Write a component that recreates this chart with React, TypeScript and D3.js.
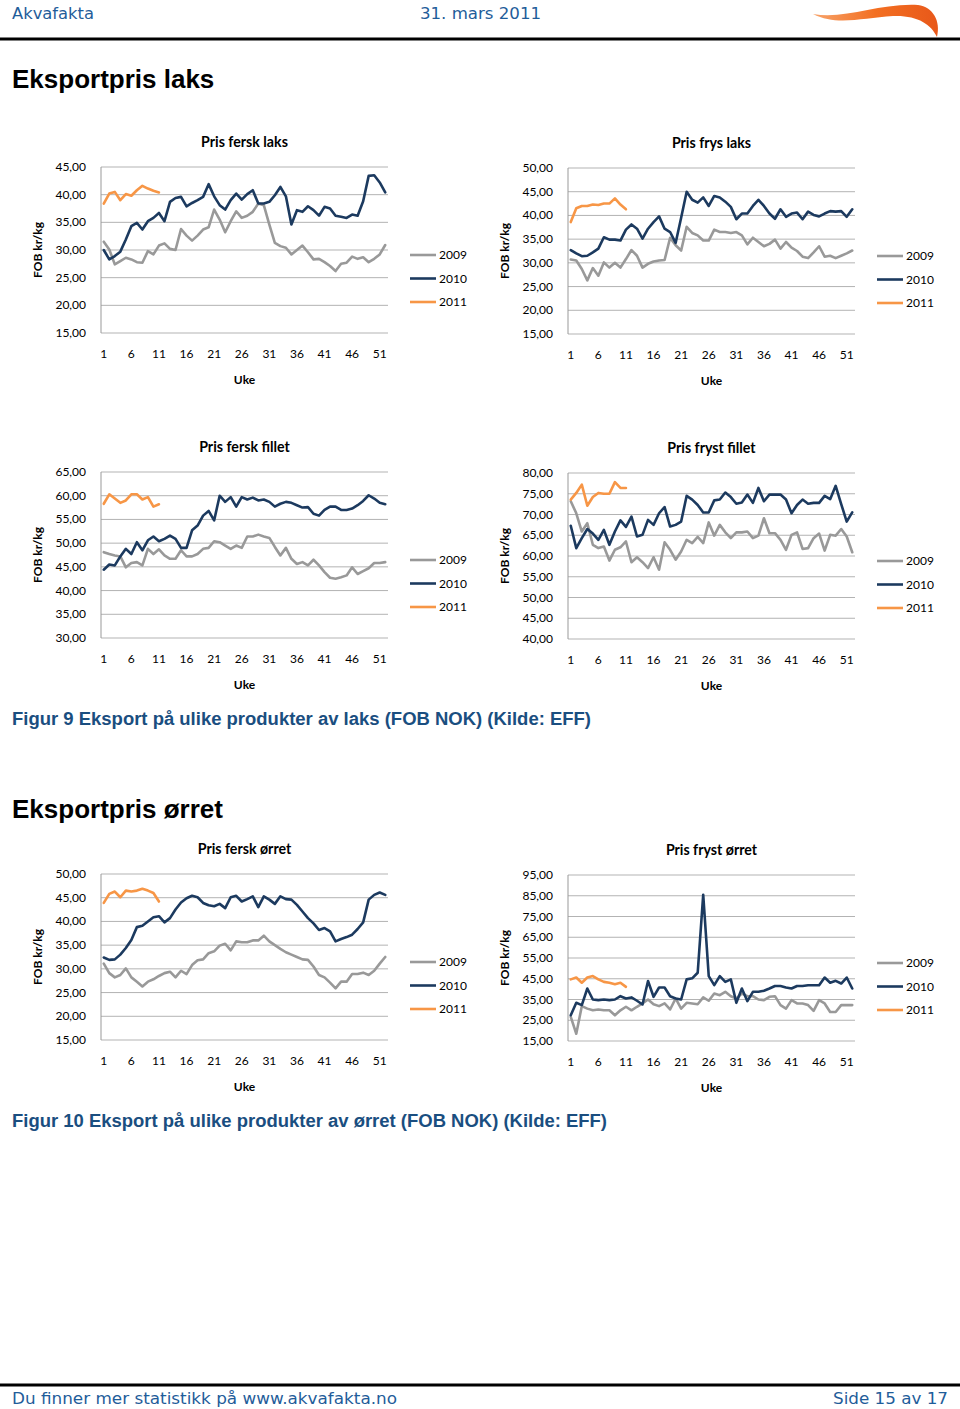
import React from "react";
import * as d3 from "d3";

// ---------- DATA ----------
const weeks: number[] = d3.range(1, 53);
const xTickLabels = ["1", "6", "11", "16", "21", "26", "31", "36", "41", "46", "51"];
const seriesNames = ["2009", "2010", "2011"];

const ferskLaksTicks = [15, 20, 25, 30, 35, 40, 45];
const ferskLaks2009 = [31.5,30.1,27.4,28.0,28.6,28.3,27.8,27.7,29.8,29.2,30.8,31.2,30.2,30.0,33.8,32.6,31.7,32.6,33.7,34.1,37.3,35.5,33.2,35.2,37.0,35.8,36.2,36.9,38.4,38.1,34.6,31.3,30.7,30.4,29.2,30.0,30.8,29.6,28.3,28.4,27.8,27.1,26.2,27.5,27.7,28.8,28.4,28.7,27.8,28.4,29.2,30.9];
const ferskLaks2010 = [30.0,28.3,28.9,29.7,31.9,34.3,34.9,33.7,35.2,35.8,36.7,35.2,38.7,39.4,39.6,37.9,38.5,39.0,39.6,41.9,39.7,38.1,37.3,39.0,40.2,39.1,40.1,40.8,38.4,38.4,38.7,39.9,41.4,39.7,34.6,37.2,36.9,37.9,37.2,36.2,37.8,37.5,36.2,36.0,35.8,36.4,36.2,38.8,43.4,43.5,42.2,40.4];
const ferskLaks2011 = [38.4,40.2,40.5,39.0,40.1,39.8,40.8,41.6,41.1,40.7,40.4];

const frysLaksTicks = [15, 20, 25, 30, 35, 40, 45, 50];
const frysLaks2009 = [30.7,30.5,28.7,26.3,28.9,27.3,30.1,29.0,30.0,29.0,30.8,32.7,31.5,29.0,29.8,30.3,30.5,30.6,35.3,33.7,32.6,37.6,36.3,35.8,34.7,34.7,37.0,36.5,36.5,36.3,36.5,35.8,33.9,35.3,34.4,33.5,34.0,34.9,33.0,34.4,33.2,32.5,31.3,31.0,32.2,33.5,31.3,31.5,31.0,31.5,32.0,32.6];
const frysLaks2010 = [32.7,32.0,31.4,31.5,32.2,33.0,35.4,34.9,34.9,34.7,37.0,38.1,37.2,35.1,37.2,38.6,39.8,37.2,36.5,34.2,39.5,45.0,43.3,42.7,43.8,42.0,44.1,43.8,42.9,41.8,39.2,40.4,40.4,42.0,43.3,42.0,40.4,39.3,41.3,39.7,40.4,40.6,39.2,40.8,40.1,39.8,40.4,40.9,40.8,40.9,39.7,41.3];
const frysLaks2011 = [38.6,41.5,42.0,42.0,42.3,42.2,42.5,42.5,43.6,42.3,41.3];

const ferskFilletTicks = [30, 35, 40, 45, 50, 55, 60, 65];
const ferskFillet2009 = [48.1,47.7,47.4,47.2,44.9,45.8,46.0,45.3,48.8,47.7,48.7,47.4,46.7,46.7,48.5,47.2,47.2,47.7,48.8,49.0,50.4,50.2,49.5,48.8,49.5,49.0,51.4,51.4,51.8,51.4,51.1,49.2,47.4,49.0,46.7,45.6,46.0,45.3,46.5,45.3,43.9,42.7,42.5,42.8,43.2,44.9,43.5,44.1,44.7,45.8,45.8,46.0];
const ferskFillet2010 = [44.4,45.5,45.3,47.2,48.8,47.7,50.2,48.5,50.6,51.4,50.4,50.9,51.6,50.9,49.0,49.0,52.7,53.7,55.8,56.8,54.8,60.0,58.7,59.7,57.7,59.7,59.2,59.6,59.0,59.2,58.7,57.7,58.3,58.7,58.5,58.0,57.5,57.6,56.2,55.8,57.0,57.7,57.7,57.0,57.0,57.3,58.0,58.9,60.1,59.4,58.5,58.2];
const ferskFillet2011 = [58.3,60.3,59.4,58.5,59.0,60.3,60.3,59.2,59.7,57.7,58.2];

const frystFilletTicks = [40, 45, 50, 55, 60, 65, 70, 75, 80];
const frystFillet2009 = [73.2,70.3,65.9,67.9,62.7,61.9,62.3,58.9,61.5,62.1,63.5,58.5,59.7,58.5,57.1,59.7,56.7,63.3,61.5,59.1,61.1,63.9,63.1,64.6,63.1,68.1,64.9,67.5,65.7,64.3,65.7,65.7,65.9,64.3,64.9,69.1,65.5,65.5,63.9,61.5,65.1,65.7,61.7,61.9,64.3,65.4,61.3,65.1,64.9,66.5,64.7,60.9];
const frystFillet2010 = [67.3,61.9,64.3,66.5,65.4,63.9,66.3,62.7,65.9,68.6,67.0,69.5,64.7,65.1,68.7,67.5,70.3,71.8,67.1,67.5,68.3,74.5,73.6,72.3,70.5,70.5,73.4,73.6,75.3,74.2,72.6,72.9,74.8,72.8,76.4,73.2,74.8,74.8,74.8,73.6,70.3,72.3,73.6,72.6,72.8,72.8,74.5,73.7,76.9,72.5,68.3,70.5];
const frystFillet2011 = [73.6,75.2,77.2,72.1,74.2,75.2,75.0,75.0,77.8,76.4,76.4];

const ferskOrretTicks = [15, 20, 25, 30, 35, 40, 45, 50];
const ferskOrret2009 = [31.1,29.1,28.2,28.7,30.1,28.2,27.3,26.3,27.3,27.8,28.5,29.1,29.4,28.2,29.6,28.9,30.8,31.8,32.0,33.3,33.7,34.9,35.3,33.9,35.8,35.6,35.6,36.0,36.0,37.0,35.8,35.0,34.2,33.5,33.0,32.5,32.0,31.9,30.5,28.7,28.2,27.1,25.9,27.3,27.3,28.9,28.9,29.2,28.7,29.6,31.1,32.5];
const ferskOrret2010 = [32.4,31.9,32.0,33.0,34.4,36.1,38.8,39.1,40.0,40.9,41.1,39.8,40.7,42.5,44.0,44.9,45.4,45.1,43.9,43.4,43.2,43.7,42.8,45.1,45.4,44.2,44.7,45.3,43.0,45.3,44.6,43.7,45.3,44.7,44.6,43.5,42.1,40.7,39.6,38.2,38.6,37.9,35.8,36.3,36.7,37.2,38.4,39.8,44.6,45.6,46.1,45.6];
const ferskOrret2011 = [43.9,45.8,46.3,45.1,46.5,46.3,46.5,46.9,46.5,46.0,44.2];

const frystOrretTicks = [15, 25, 35, 45, 55, 65, 75, 85, 95];
const frystOrret2009 = [26.6,18.5,31.8,30.6,29.8,30.2,29.8,29.8,27.4,29.8,31.5,29.8,31.5,33.1,35.0,32.7,31.8,33.1,30.2,35.5,30.6,33.4,33.1,32.7,36.0,34.4,37.9,37.1,38.7,36.6,35.5,37.9,36.6,36.6,35.0,34.7,36.3,36.6,32.3,30.6,34.7,33.1,33.1,32.3,29.5,34.7,33.1,29.0,29.0,32.3,32.3,32.3];
const frystOrret2010 = [27.4,33.4,32.3,40.3,35.0,34.7,35.0,34.7,35.0,36.6,35.5,36.0,34.4,32.6,43.9,36.3,40.8,40.8,36.6,35.5,35.0,44.7,45.2,47.9,85.5,46.3,41.9,46.3,43.5,44.7,33.4,40.3,34.2,38.7,38.7,39.2,40.3,41.5,41.5,40.8,40.3,41.5,41.5,41.9,41.9,41.9,45.6,43.1,44.0,42.7,45.6,40.3];
const frystOrret2011 = [44.7,45.6,43.1,45.6,46.3,44.7,43.5,43.1,42.4,43.1,41.1];

// ---------- STYLE / LAYOUT ----------
const COLORS = ["#999999", "#1c3a5f", "#f79646"];
const CHART_FONT = "Lato, 'Open Sans', sans-serif";
const HEAD_FONT = "'Liberation Sans', Arial, sans-serif";
const BLUE = "#1f5d9a";
const CAP_BLUE = "#1a4e80";

type ChartCfg = {
  title: string;
  x0: number; x1: number; yTop: number; yBot: number;
  ticks: number[];
  series: number[][];
};

const LX0 = 101, LX1 = 388, RX0 = 568, RX1 = 855;

const charts: ChartCfg[] = [
  { title: "Pris fersk laks", x0: LX0, x1: LX1, yTop: 167, yBot: 333, ticks: ferskLaksTicks, series: [ferskLaks2009, ferskLaks2010, ferskLaks2011] },
  { title: "Pris frys laks", x0: RX0, x1: RX1, yTop: 168, yBot: 334, ticks: frysLaksTicks, series: [frysLaks2009, frysLaks2010, frysLaks2011] },
  { title: "Pris fersk fillet", x0: LX0, x1: LX1, yTop: 472, yBot: 638, ticks: ferskFilletTicks, series: [ferskFillet2009, ferskFillet2010, ferskFillet2011] },
  { title: "Pris fryst fillet", x0: RX0, x1: RX1, yTop: 473, yBot: 639, ticks: frystFilletTicks, series: [frystFillet2009, frystFillet2010, frystFillet2011] },
  { title: "Pris fersk ørret", x0: LX0, x1: LX1, yTop: 874, yBot: 1040, ticks: ferskOrretTicks, series: [ferskOrret2009, ferskOrret2010, ferskOrret2011] },
  { title: "Pris fryst ørret", x0: RX0, x1: RX1, yTop: 875, yBot: 1041, ticks: frystOrretTicks, series: [frystOrret2009, frystOrret2010, frystOrret2011] },
];

const fmt = (v: number) => v.toFixed(2).replace(".", ",");

function Chart({ cfg }: { cfg: ChartCfg }) {
  const { x0, x1, yTop, yBot, ticks, series, title } = cfg;
  const x = d3.scaleBand<number>().domain(weeks).range([x0, x1]).padding(0);
  const bw = x.bandwidth();
  const cx = (w: number) => (x(w) as number) + bw / 2;
  const y = d3.scaleLinear().domain([ticks[0], ticks[ticks.length - 1]]).range([yBot, yTop]);
  const line = d3.line<number>().x((_, i) => cx(weeks[i])).y((d) => y(d));
  const mid = (yTop + yBot) / 2;
  const cxChart = (x0 + x1) / 2;
  const legX = x1 + 22;
  return (
    <g fontFamily={CHART_FONT}>
      <text x={cxChart} y={yTop - 20} textAnchor="middle" fontSize={14.2} fontWeight="bold" fill="#000">{title}</text>
      {ticks.map((t) => (
        <g key={t}>
          <line x1={x0} x2={x1} y1={y(t)} y2={y(t)} stroke="#b3b3b3" strokeWidth={1} />
          <text x={x0 - 15} y={y(t) + 4} textAnchor="end" fontSize={12} fill="#000">{fmt(t)}</text>
        </g>
      ))}
      <line x1={x0} x2={x0} y1={yTop} y2={yBot} stroke="#999" strokeWidth={1} />
      {xTickLabels.map((l) => (
        <text key={l} x={cx(+l)} y={yBot + 25} textAnchor="middle" fontSize={12} fill="#000">{l}</text>
      ))}
      <text x={cxChart} y={yBot + 51} textAnchor="middle" fontSize={12} fontWeight="bold" fill="#000">Uke</text>
      <text transform={`translate(${x0 - 59},${mid}) rotate(-90)`} textAnchor="middle" fontSize={12} fontWeight="bold" fill="#000">FOB kr/kg</text>
      {series.map((s, i) => (
        <path key={i} d={line(s) || ""} fill="none" stroke={COLORS[i]} strokeWidth={2.6} strokeLinejoin="round" strokeLinecap="round" />
      ))}
      {seriesNames.map((n, i) => (
        <g key={n}>
          <line x1={legX} x2={legX + 26} y1={mid + 5 + i * 23.5} y2={mid + 5 + i * 23.5} stroke={COLORS[i]} strokeWidth={2.6} />
          <text x={legX + 29} y={mid + 9 + i * 23.5} fontSize={12} fill="#000">{n}</text>
        </g>
      ))}
    </g>
  );
}

export default function App() {
  return (
    <div style={{ position: "absolute", left: 0, top: 0 }}>
      <svg width={960} height={1409} viewBox="0 0 960 1409" style={{ display: "block", background: "#fff" }}>
        <defs>
          <linearGradient id="swoosh" x1="0" x2="1" y1="0" y2="0">
            <stop offset="0" stopColor="#f7a36a" />
            <stop offset="0.5" stopColor="#f36f21" />
            <stop offset="1" stopColor="#e8581a" />
          </linearGradient>
        </defs>
        {/* header */}
        <text x={12} y={19} fontFamily="'DejaVu Sans', Verdana, sans-serif" fontSize={16} fill={BLUE} textLength={82} lengthAdjust="spacingAndGlyphs">Akvafakta</text>
        <text x={420} y={19} fontFamily="'DejaVu Sans', Verdana, sans-serif" fontSize={16} fill={BLUE} textLength={121} lengthAdjust="spacingAndGlyphs">31. mars 2011</text>
        <path d="M 813 14 C 845 20, 878 3, 918 5 C 933 7, 941 21, 937 37 C 931 24, 917 15, 893 16 C 862 18, 836 26, 813 14 Z" fill="url(#swoosh)" />
        <rect x={0} y={37.5} width={960} height={3} fill="#000" />

        <text x={12} y={88} fontFamily={HEAD_FONT} fontSize={26} fontWeight="bold" fill="#000">Eksportpris laks</text>
        <text x={12} y={725} fontFamily={HEAD_FONT} fontSize={18} fontWeight="bold" fill={CAP_BLUE} textLength={579} lengthAdjust="spacingAndGlyphs">Figur 9 Eksport på ulike produkter av laks (FOB NOK) (Kilde: EFF)</text>
        <text x={12} y={818} fontFamily={HEAD_FONT} fontSize={26} fontWeight="bold" fill="#000">Eksportpris ørret</text>
        <text x={12} y={1127} fontFamily={HEAD_FONT} fontSize={18} fontWeight="bold" fill={CAP_BLUE} textLength={595} lengthAdjust="spacingAndGlyphs">Figur 10 Eksport på ulike produkter av ørret (FOB NOK) (Kilde: EFF)</text>

        {charts.map((c) => <Chart key={c.title} cfg={c} />)}

        {/* footer */}
        <rect x={0} y={1383.5} width={960} height={3} fill="#000" />
        <text x={12} y={1404} fontFamily="'DejaVu Sans', Verdana, sans-serif" fontSize={16} fill={BLUE} textLength={385} lengthAdjust="spacingAndGlyphs">Du finner mer statistikk på www.akvafakta.no</text>
        <text x={833} y={1404} fontFamily="'DejaVu Sans', Verdana, sans-serif" fontSize={16} fill={BLUE} textLength={115} lengthAdjust="spacingAndGlyphs">Side 15 av 17</text>
      </svg>
    </div>
  );
}
